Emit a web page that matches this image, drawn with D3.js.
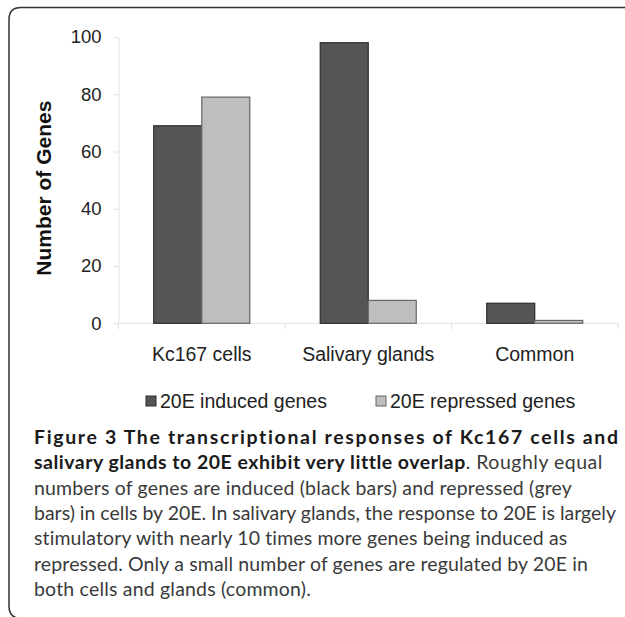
<!DOCTYPE html>
<html>
<head>
<meta charset="utf-8">
<script src="https://cdn.jsdelivr.net/npm/d3@7"></script>
<style>
  html, body { margin: 0; padding: 0; background: #fff; }
  svg { display: block; }
</style>
</head>
<body>
<svg id="chart" width="625" height="617"></svg>
<script>
// ---- data ----
const categories = ["Kc167 cells", "Salivary glands", "Common"];
const seriesNames = ["20E induced genes", "20E repressed genes"];
const inducedValues = [69, 98, 7];
const repressedValues = [79, 8, 1];
const yTickValues = [0, 20, 40, 60, 80, 100];
const yTitle = "Number of Genes";
const captionLines = [
  [{t: "Figure 3 The transcriptional responses of Kc167 cells and", b: true}],
  [{t: "salivary glands to 20E exhibit very little overlap", b: true}, {t: ". Roughly equal", b: false}],
  [{t: "numbers of genes are induced (black bars) and repressed (grey", b: false}],
  [{t: "bars) in cells by 20E. In salivary glands, the response to 20E is largely", b: false}],
  [{t: "stimulatory with nearly 10 times more genes being induced as", b: false}],
  [{t: "repressed. Only a small number of genes are regulated by 20E in", b: false}],
  [{t: "both cells and glands (common).", b: false}]
];
const captionLineEnds = [620, 602, 572, 616, 568, 588, 311];

// ---- drawing ----
const svg = d3.select("#chart");
const fillColors = ["#575553", "#bfbebc"];
const strokeColors = ["#2e2e2e", "#666"];

// frame
svg.append("path")
  .attr("d", "M 630 7.5 H 21 Q 9 7.5 9 19.5 V 606 Q 9 616 17 618")
  .attr("fill", "none").attr("stroke", "#333").attr("stroke-width", 1.5);

const plot = {left: 118.5, right: 618, top: 37, bottom: 323.3};

const y = d3.scaleLinear().domain([0, 100]).range([plot.bottom, plot.top]);
const x0 = d3.scaleBand().domain(categories).range([plot.left, plot.right]).paddingInner(0).paddingOuter(0);
const x1 = d3.scaleBand().domain(seriesNames).range([0, x0.bandwidth()]).paddingInner(0).paddingOuter(0.734);

// y axis
const yAxis = svg.append("g")
  .attr("transform", `translate(${plot.left},0)`)
  .call(d3.axisLeft(y).tickValues(yTickValues).tickSize(5).tickSizeOuter(0).tickPadding(12));
yAxis.select(".domain").attr("stroke", "#e2e2e2");
yAxis.selectAll(".tick line").attr("stroke", "#e2e2e2");
yAxis.selectAll(".tick text")
  .attr("font-family", "'Liberation Sans', Arial, sans-serif")
  .attr("font-size", 18.5).attr("fill", "#222");

// x axis baseline + boundary ticks
const xg = svg.append("g");
xg.append("line")
  .attr("x1", plot.left).attr("x2", plot.right)
  .attr("y1", y(0)).attr("y2", y(0))
  .attr("stroke", "#e2e2e2");
const boundaries = categories.map(c => x0(c)).concat([x0(categories[categories.length - 1]) + x0.bandwidth()]);
xg.selectAll("line.tk").data(boundaries).enter().append("line")
  .attr("class", "tk")
  .attr("x1", d => d).attr("x2", d => d)
  .attr("y1", y(0)).attr("y2", y(0) + 6)
  .attr("stroke", "#e2e2e2");
xg.selectAll("text.cat").data(categories).enter().append("text")
  .attr("class", "cat")
  .attr("x", d => x0(d) + x0.bandwidth() / 2)
  .attr("y", y(0) + 38)
  .attr("text-anchor", "middle")
  .attr("font-family", "'Liberation Sans', Arial, sans-serif")
  .attr("font-size", 19.5).attr("fill", "#222")
  .text(d => d);

// bars
const seriesData = [inducedValues, repressedValues];
seriesNames.forEach((s, si) => {
  svg.append("g").selectAll("rect").data(categories).enter().append("rect")
    .attr("x", c => x0(c) + x1(s))
    .attr("y", (c, i) => y(seriesData[si][i]))
    .attr("width", x1.bandwidth())
    .attr("height", (c, i) => y(0) - y(seriesData[si][i]))
    .attr("fill", fillColors[si])
    .attr("stroke", strokeColors[si])
    .attr("stroke-width", 1.2);
});

// y title
svg.append("text")
  .attr("transform", `translate(51,${(plot.top + plot.bottom) / 2 + 8}) rotate(-90)`)
  .attr("text-anchor", "middle")
  .attr("font-family", "'Liberation Sans', Arial, sans-serif")
  .attr("font-weight", "bold")
  .attr("font-size", 21).attr("fill", "#111")
  .text(yTitle);

// legend
const legendX = [146, 376];
seriesNames.forEach((s, si) => {
  svg.append("rect")
    .attr("x", legendX[si]).attr("y", 396)
    .attr("width", 10).attr("height", 10)
    .attr("fill", fillColors[si]).attr("stroke", strokeColors[si]).attr("stroke-width", 1);
  svg.append("text")
    .attr("x", legendX[si] + 14).attr("y", 407.5)
    .attr("font-family", "'Liberation Sans', Arial, sans-serif")
    .attr("font-size", 19.5).attr("fill", "#222")
    .text(s);
});

// caption: one font size for all lines, letter-spacing fitted per line
const capStartX = 34, capY0 = 444, capDY = 25.3;
const capFont = "Lato, 'Open Sans', 'Noto Sans', sans-serif";
function makeLine(li, fs) {
  const t = svg.append("text")
    .attr("x", capStartX).attr("y", capY0 + li * capDY)
    .attr("font-family", capFont)
    .attr("font-size", fs);
  captionLines[li].forEach(p => {
    t.append("tspan")
      .attr("font-weight", p.b ? "bold" : "normal")
      .attr("fill", p.b ? "#1a1a1a" : "#3a3a3a")
      .text(p.t);
  });
  return t;
}
// calibrate the font size on the full-width line 4
const probe = makeLine(3, 20);
const natural = probe.node().getComputedTextLength();
probe.remove();
const capFs = Math.min(21, 20 * (captionLineEnds[3] - capStartX) / natural);
captionLines.forEach((parts, li) => {
  const t = makeLine(li, capFs);
  const len = t.node().getComputedTextLength();
  const nChars = parts.map(p => p.t).join("").length;
  const ls = (captionLineEnds[li] - capStartX - len) / nChars;
  t.attr("letter-spacing", ls.toFixed(3));
});
</script>
</body>
</html>
